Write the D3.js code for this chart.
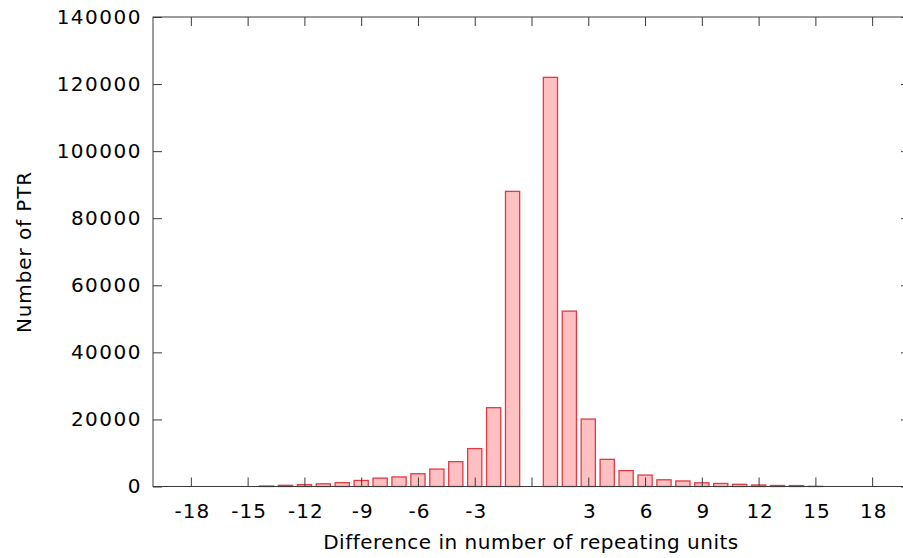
<!DOCTYPE html>
<html>
<head>
<meta charset="utf-8">
<script src="https://cdn.jsdelivr.net/npm/d3@7/dist/d3.min.js"></script>
<style>
  html, body { margin: 0; padding: 0; background: #fff; }
  text { font-family: "DejaVu Sans", sans-serif; fill: #000; }
</style>
</head>
<body>
<svg id="chart" width="903" height="558"></svg>
<script>
// Data
const differences = [-14,-13,-12,-11,-10,-9,-8,-7,-6,-5,-4,-3,-2,-1,1,2,3,4,5,6,7,8,9,10,11,12,13,14,15];
const counts      = [150,350,550,800,1150,1800,2500,2850,3800,5200,7400,11300,23500,88000,122000,52300,20100,8100,4750,3400,2000,1650,1100,900,650,450,300,280,60];
const xTickValues = [-18,-15,-12,-9,-6,-3,0,3,6,9,12,15,18];
const xTickLabels = ["-18","-15","-12","-9","-6","-3","","3","6","9","12","15","18"];
const yTickValues = [0,20000,40000,60000,80000,100000,120000,140000];
const xTitle = "Difference in number of repeating units";
const yTitle = "Number of PTR";

const svg = d3.select("#chart");
const plotL = 153, plotR = 910, plotT = 17, plotB = 486.5;

const x = d3.scaleLinear().domain([-20, 20]).range([plotL, plotR]);
const y = d3.scaleLinear().domain([0, 140000]).range([plotB, plotT]);
const barW = x(0.75) - x(0);
const frameColor = "#3a3a3a";

// Bars
svg.append("g").selectAll("rect")
  .data(differences.map((d, i) => ({d, v: counts[i]})))
  .join("rect")
  .attr("x", p => x(p.d) - barW / 2)
  .attr("width", barW)
  .attr("y", p => y(p.v))
  .attr("height", p => Math.max(0, y(0) - y(p.v)))
  .attr("fill", "#ffc0c2")
  .attr("stroke", "#e23a44")
  .attr("stroke-width", 1.3);

// Frame
svg.append("rect")
  .attr("x", plotL).attr("y", plotT)
  .attr("width", plotR - plotL).attr("height", plotB - plotT)
  .attr("fill", "none").attr("stroke", frameColor).attr("stroke-width", 1);

const tickLen = 9;

// Bottom axis
const xAxis = d3.axisBottom(x).tickValues(xTickValues)
  .tickSize(-tickLen).tickPadding(tickLen + 8)
  .tickFormat((d, i) => xTickLabels[i]);
const gx = svg.append("g").attr("transform", `translate(0,${plotB})`).call(xAxis);
gx.select(".domain").remove();
gx.selectAll(".tick line").attr("stroke", frameColor);
gx.selectAll(".tick text").attr("font-size", 20).attr("letter-spacing", 1)
  .attr("font-family", "DejaVu Sans").attr("fill", "#000").attr("dx", 1);

// Top mirror ticks
const gxt = svg.append("g").attr("transform", `translate(0,${plotT})`)
  .call(d3.axisTop(x).tickValues(xTickValues).tickSize(-tickLen).tickFormat(""));
gxt.select(".domain").remove();
gxt.selectAll(".tick line").attr("stroke", frameColor);

// Left axis
const yAxis = d3.axisLeft(y).tickValues(yTickValues)
  .tickSize(-tickLen).tickPadding(tickLen + 2)
  .tickFormat(d3.format("d"));
const gy = svg.append("g").attr("transform", `translate(${plotL},0)`).call(yAxis);
gy.select(".domain").remove();
gy.selectAll(".tick line").attr("stroke", frameColor);
gy.selectAll(".tick text").attr("font-size", 20).attr("letter-spacing", 1.5)
  .attr("font-family", "DejaVu Sans").attr("fill", "#000");

// Right mirror ticks
const gyr = svg.append("g").attr("transform", `translate(${plotR},0)`)
  .call(d3.axisRight(y).tickValues(yTickValues).tickSize(-tickLen).tickFormat(""));
gyr.select(".domain").remove();
gyr.selectAll(".tick line").attr("stroke", frameColor);

// Titles
svg.append("text")
  .attr("x", 531).attr("y", 549)
  .attr("text-anchor", "middle")
  .attr("font-size", 20).attr("letter-spacing", 0.5)
  .text(xTitle);

svg.append("text")
  .attr("transform", "translate(31,252) rotate(-90)")
  .attr("text-anchor", "middle")
  .attr("font-size", 20).attr("letter-spacing", 0.9)
  .text(yTitle);
</script>
</body>
</html>
